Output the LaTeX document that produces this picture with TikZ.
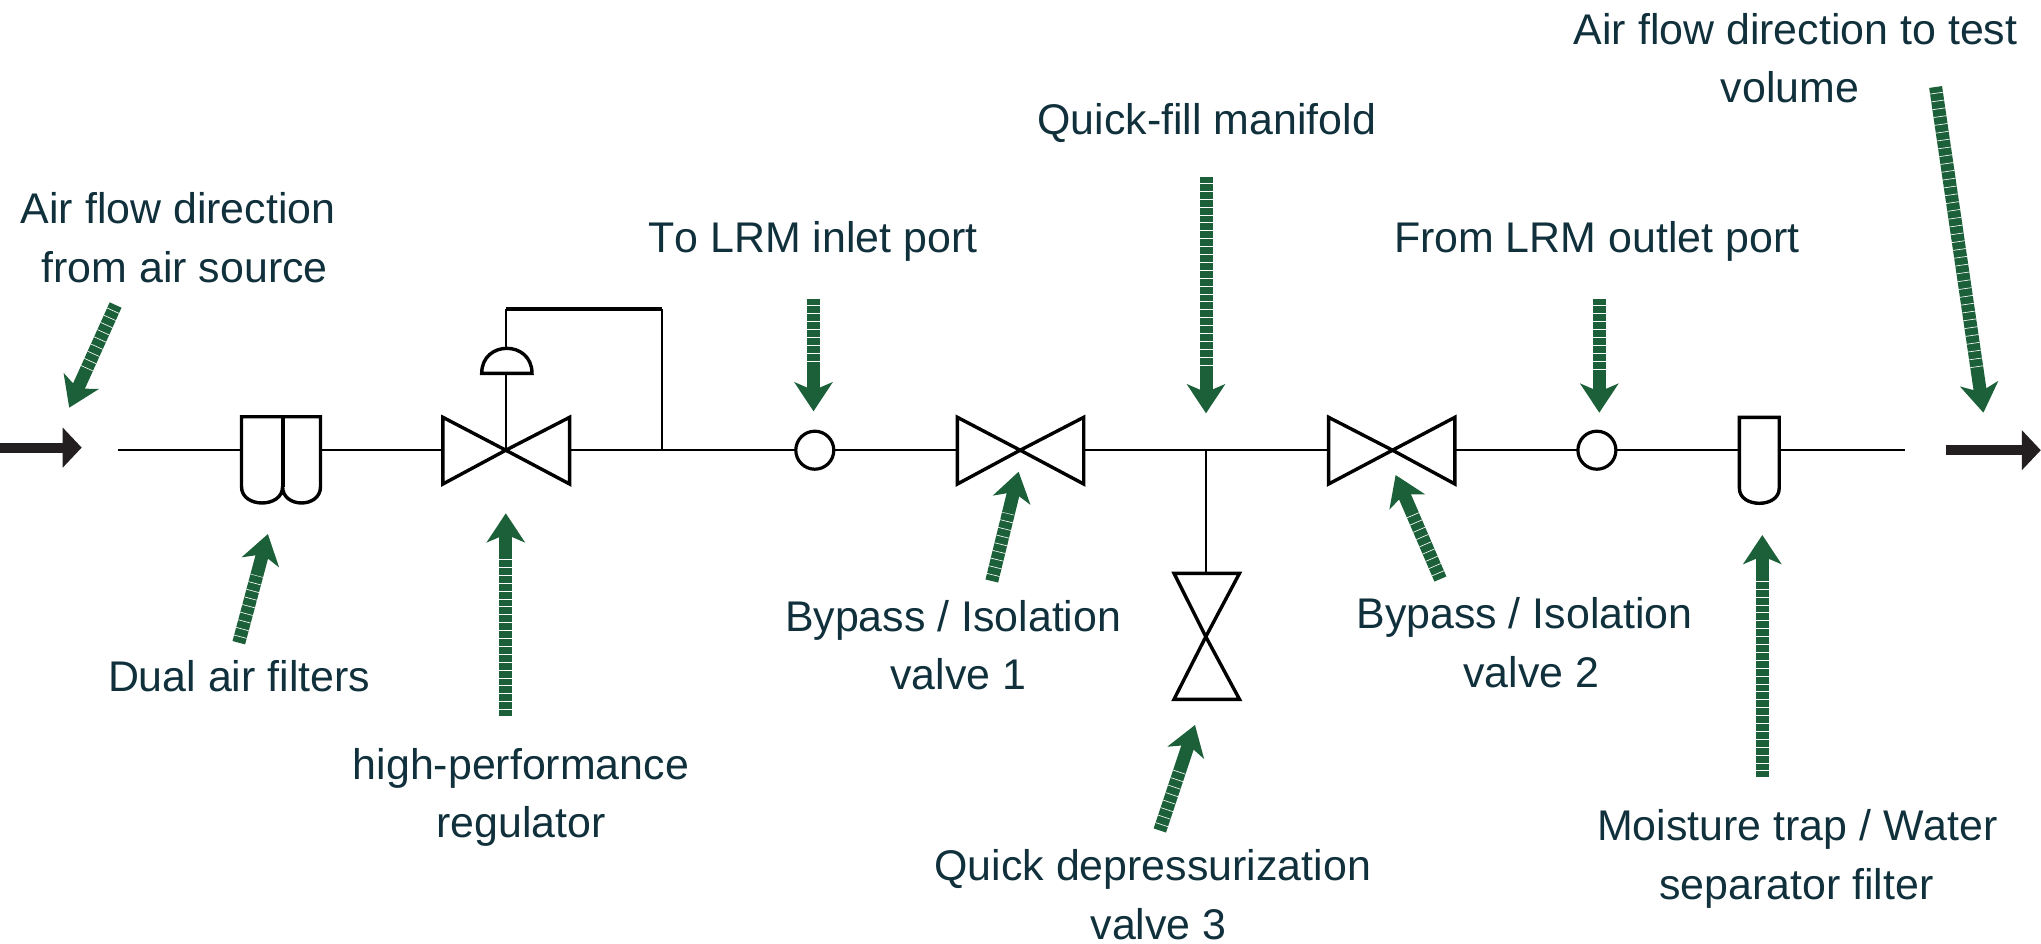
\documentclass[tikz,border=0pt]{standalone}
\usepackage{fontspec}
\setmainfont[Kerning=Off]{Liberation Sans}
\usetikzlibrary{arrows.meta}
\definecolor{txtc}{HTML}{10303C}
\definecolor{grn}{HTML}{1C6039}
\definecolor{blk}{HTML}{231F20}
\tikzset{
  pipe/.style={draw=black,line width=1pt},
  sym/.style={draw=black,line width=1.7pt,line join=miter,fill=white},
  symline/.style={draw=black,line width=2pt},
  lbl/.style={anchor=base west,inner sep=0pt,outer sep=0pt,align=left,text=txtc,font=\fontsize{21.45}{29.3}\selectfont},
  pointer/.style={draw=grn,line width=6.5pt,-{Stealth[length=14.5pt,width=19pt,inset=4pt,fill=grn]},
    postaction={draw=white,-,line width=6.5pt,dash pattern=on 0.32pt off 3.63pt,dash phase=1pt,shorten >=21.5pt}},
  flow/.style={draw=blk,line width=5pt,-{Triangle[length=9.5pt,width=19.5pt,fill=blk]}},
  port/.style={circle,draw=black,line width=1.6pt,minimum size=19pt,inner sep=0pt,outer sep=0pt}
}
\begin{document}
\begin{tikzpicture}[x=0.5pt,y=-0.5pt]
\useasboundingbox (0,0) rectangle (2041,943);
% key points
\coordinate (start) at (118,450.2);
\coordinate (f1l) at (241.5,450.2);
\coordinate (f1r) at (320.5,450.2);
\coordinate (rvl) at (442.9,450.2);
\coordinate (rvc) at (505.8,450.2);
\coordinate (rvr) at (569.6,450.2);
\coordinate (dometop) at (505.8,348.3);
\coordinate (domebase) at (505.8,373.3);
\coordinate (fbc) at (505.8,309.3);
\coordinate (fbr) at (661.6,309.3);
\coordinate (fbj) at (661.6,450.2);
\node[port] (c1) at (814.8,450.2) {};
\coordinate (v1l) at (957.4,450.2);
\coordinate (v1c) at (1020.2,450.2);
\coordinate (v1r) at (1083.7,450.2);
\coordinate (j) at (1205.8,450.2);
\coordinate (v2l) at (1328.6,450.2);
\coordinate (v2c) at (1392.5,450.2);
\coordinate (v2r) at (1454.9,450.2);
\node[port] (c2) at (1596.9,450.2) {};
\coordinate (tl) at (1739.4,450.2);
\coordinate (tr) at (1779.2,450.2);
\coordinate (stop) at (1904.8,450.2);
\coordinate (v3t) at (1205.8,573.3);
\coordinate (v3c) at (1205.8,636.7);
% pipes
\draw[pipe] (start) -- (f1l);
\draw[pipe] (f1r) -- (rvl);
\draw[pipe] (rvr) -- (c1);
\draw[pipe] (c1) -- (v1l);
\draw[pipe] (v1r) -- (v2l);
\draw[pipe] (v2r) -- (c2);
\draw[pipe] (c2) -- (tl);
\draw[pipe] (tr) -- (stop);
\draw[pipe] (j) -- (v3t);
\draw[pipe] (fbj) -- (fbr);
\draw[symline] (fbr) -- (fbc);
\draw[pipe] (fbc) -- (dometop);
% dual filter
\draw[sym] (241.5,416.7) -- (241.5,486.7) .. controls (241.5,508.4) and (282.6,508.4) .. (282.6,486.7)
  .. controls (282.6,508.4) and (320.5,508.4) .. (320.5,486.7) -- (320.5,416.7) -- cycle;
\draw[symline] (282.6,416.7) -- (282.6,486.7);
% regulator valve
\draw[sym] (rvc) -- (442.9,417.3) -- (442.9,484) -- cycle;
\draw[sym] (rvc) -- (569.6,417.3) -- (569.6,484) -- cycle;
\draw[pipe] (domebase) -- (rvc);
% dome
\draw[sym] (481.7,373.3) .. controls (481.7,340) and (532,340) .. (532,373.3) -- cycle;
% valve 1
\draw[sym] (v1c) -- (957.4,417.3) -- (957.4,484) -- cycle;
\draw[sym] (v1c) -- (1083.7,417.3) -- (1083.7,484) -- cycle;
% valve 2
\draw[sym] (v2c) -- (1328.6,417.3) -- (1328.6,484) -- cycle;
\draw[sym] (v2c) -- (1454.9,417.3) -- (1454.9,484) -- cycle;
% valve 3
\draw[sym] (v3c) -- (1174,573.3) -- (1239.5,573.3) -- cycle;
\draw[sym] (v3c) -- (1174,699.3) -- (1239.5,699.3) -- cycle;
% trap
\draw[sym] (1739.4,417.3) -- (1739.4,488.3) .. controls (1739.4,508.3) and (1779.2,508.3) .. (1779.2,488.3) -- (1779.2,417.3) -- cycle;
% flow arrows
\coordinate (fa) at (0,447.6);
\coordinate (fb) at (81.7,447.6);
\coordinate (fc) at (1946.4,450.2);
\coordinate (fd) at (2040.8,450.2);
\draw[flow] (fa) -- (fb);
\draw[flow] (fc) -- (fd);
% labels
\node[lbl] (l1) at (20.8,282.5) {Air flow direction\\\hspace*{10.4pt}from air source};
\node[lbl] (l2) at (648.3,252.5) {To LRM inlet port};
\node[lbl] (l3) at (1037.5,134.1) {Quick-fill manifold};
\node[lbl] (l4) at (1394,252.5) {From LRM outlet port};
\node[lbl] (l5) at (1573.8,102.9) {Air flow direction to test\\\hspace*{73.5pt}volume};
\node[lbl] (l6) at (108,691.2) {Dual air filters};
\node[lbl] (l7) at (352.8,837.6) {high-performance\\\hspace*{41.7pt}regulator};
\node[lbl] (l8) at (785,689.9) {Bypass / Isolation\\\hspace*{52.7pt}valve 1};
\node[lbl] (l9) at (1356.4,687.3) {Bypass / Isolation\\\hspace*{53.4pt}valve 2};
\node[lbl] (l10) at (934.6,939.3) {Quick depressurization\\\hspace*{78pt}valve 3};
\node[lbl] (l11) at (1597,899.5) {Moisture trap / Water\\\hspace*{31.2pt}separator filter};
% pointers
\coordinate (a1t) at (115.6,305); \coordinate (a1h) at (69.2,407.7);
\coordinate (a2t) at (238.8,642.7); \coordinate (a2h) at (267.9,534);
\coordinate (a3t) at (505.8,715.7); \coordinate (a3h) at (505.8,513.3);
\coordinate (a4t) at (813.5,299.4); \coordinate (a4h) at (813.5,411.3);
\coordinate (a5t) at (1206,177); \coordinate (a5h) at (1206,413.3);
\coordinate (a6t) at (1599.3,299.4); \coordinate (a6h) at (1599.3,412.7);
\coordinate (a7t) at (1935.6,87); \coordinate (a7h) at (1983.4,412.7);
\coordinate (a8t) at (991.8,581); \coordinate (a8h) at (1018.6,471.7);
\coordinate (a9t) at (1440.4,579); \coordinate (a9h) at (1395.6,475);
\coordinate (a10t) at (1159.8,830.5); \coordinate (a10h) at (1195,725);
\coordinate (a11t) at (1762.3,777); \coordinate (a11h) at (1762.3,535);
\foreach \i in {1,...,11} {\draw[pointer] (a\i t) -- (a\i h);}
\end{tikzpicture}
\end{document}
